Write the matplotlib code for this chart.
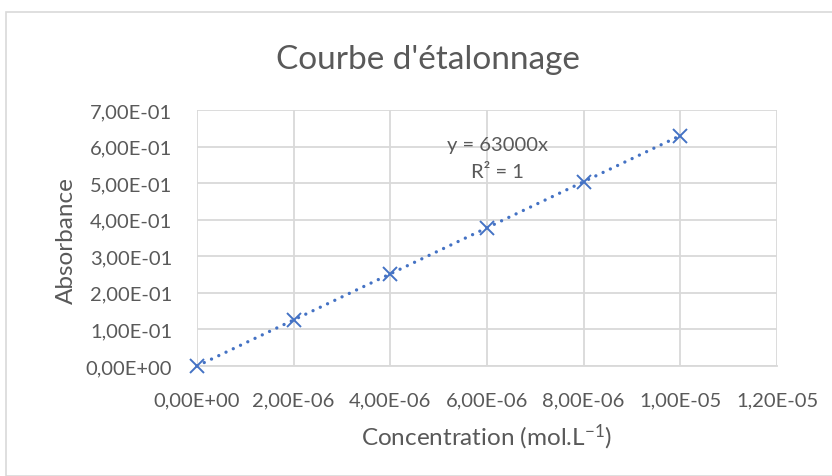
import matplotlib
matplotlib.use("Agg")
import matplotlib.pyplot as plt
from matplotlib.patches import Rectangle
from matplotlib.ticker import FuncFormatter, MultipleLocator
import numpy as np

concentration = [0.0, 2e-6, 4e-6, 6e-6, 8e-6, 1e-5]
absorbance = [0.0, 0.126, 0.252, 0.378, 0.504, 0.63]
slope = 63000
title = "Courbe d'étalonnage"
xlabel = "Concentration (mol.L$^{\\mathregular{-1}}$)"
ylabel = "Absorbance"
eq_line1 = "y = 63000x"
eq_line2 = "R² = 1"

plt.rcParams['font.family'] = ['Lato', 'DejaVu Sans']
plt.rcParams['mathtext.fontset'] = 'custom'
plt.rcParams['mathtext.rm'] = 'Lato'
plt.rcParams['mathtext.it'] = 'Lato:italic'
TXT = '#595959'
GRID = '#D9D9D9'
BLUE = '#4472C4'

W, H = 832, 477
fig = plt.figure(figsize=(W/100, H/100), dpi=100)
fig.add_artist(Rectangle((6/W, 0), 2, (H-13)/H, transform=fig.transFigure,
                         fill=False, edgecolor=GRID, linewidth=1.2))

ax = fig.add_axes([197/W, 1-367/H, 580/W, 256/H])
ax.set_xlim(0, 1.2e-5)
ax.set_ylim(0, 0.7)
ax.xaxis.set_major_locator(MultipleLocator(2e-6))
ax.yaxis.set_major_locator(MultipleLocator(0.1))
fmt = FuncFormatter(lambda v, p: f"{v:.2E}".replace('.', ','))
ax.xaxis.set_major_formatter(fmt)
ax.yaxis.set_major_formatter(fmt)
ax.grid(True, color=GRID, linewidth=1.3)
ax.set_axisbelow(True)
for s in ['top', 'right', 'left']:
    ax.spines[s].set_visible(False)
ax.spines['bottom'].set_color(GRID)
ax.spines['bottom'].set_linewidth(1.3)
ax.tick_params(length=0, labelsize=14.5, labelcolor=TXT)
ax.tick_params(axis='x', pad=18)
ax.tick_params(axis='y', pad=18)

xs = np.array([concentration[0], concentration[-1]])
ax.plot(xs, slope * xs, linestyle=(0, (0.01, 2.4)), color=BLUE, linewidth=2.4,
        dash_capstyle='round', clip_on=False, zorder=2)
ax.plot(concentration, absorbance, linestyle='none', marker='x', markersize=10.5,
        markeredgewidth=1.4, color=BLUE, clip_on=False, zorder=3)

ax.text(6.22e-6, 0.607, eq_line1, ha='center', va='center', fontsize=14.5, color=TXT)
ax.text(6.22e-6, 0.533, eq_line2, ha='center', va='center', fontsize=14.5, color=TXT)

fig.text(486/W, 1-437/H, xlabel, ha='center', va='center', fontsize=17.5, color=TXT)
fig.text(66/W, 1-241/H, ylabel, ha='center', va='center', rotation=90,
         fontsize=17.5, color=TXT)
fig.text(428/W, 1-60/H, title, ha='center', va='center', fontsize=24, color=TXT)

fig.savefig('out.png', dpi=100)
